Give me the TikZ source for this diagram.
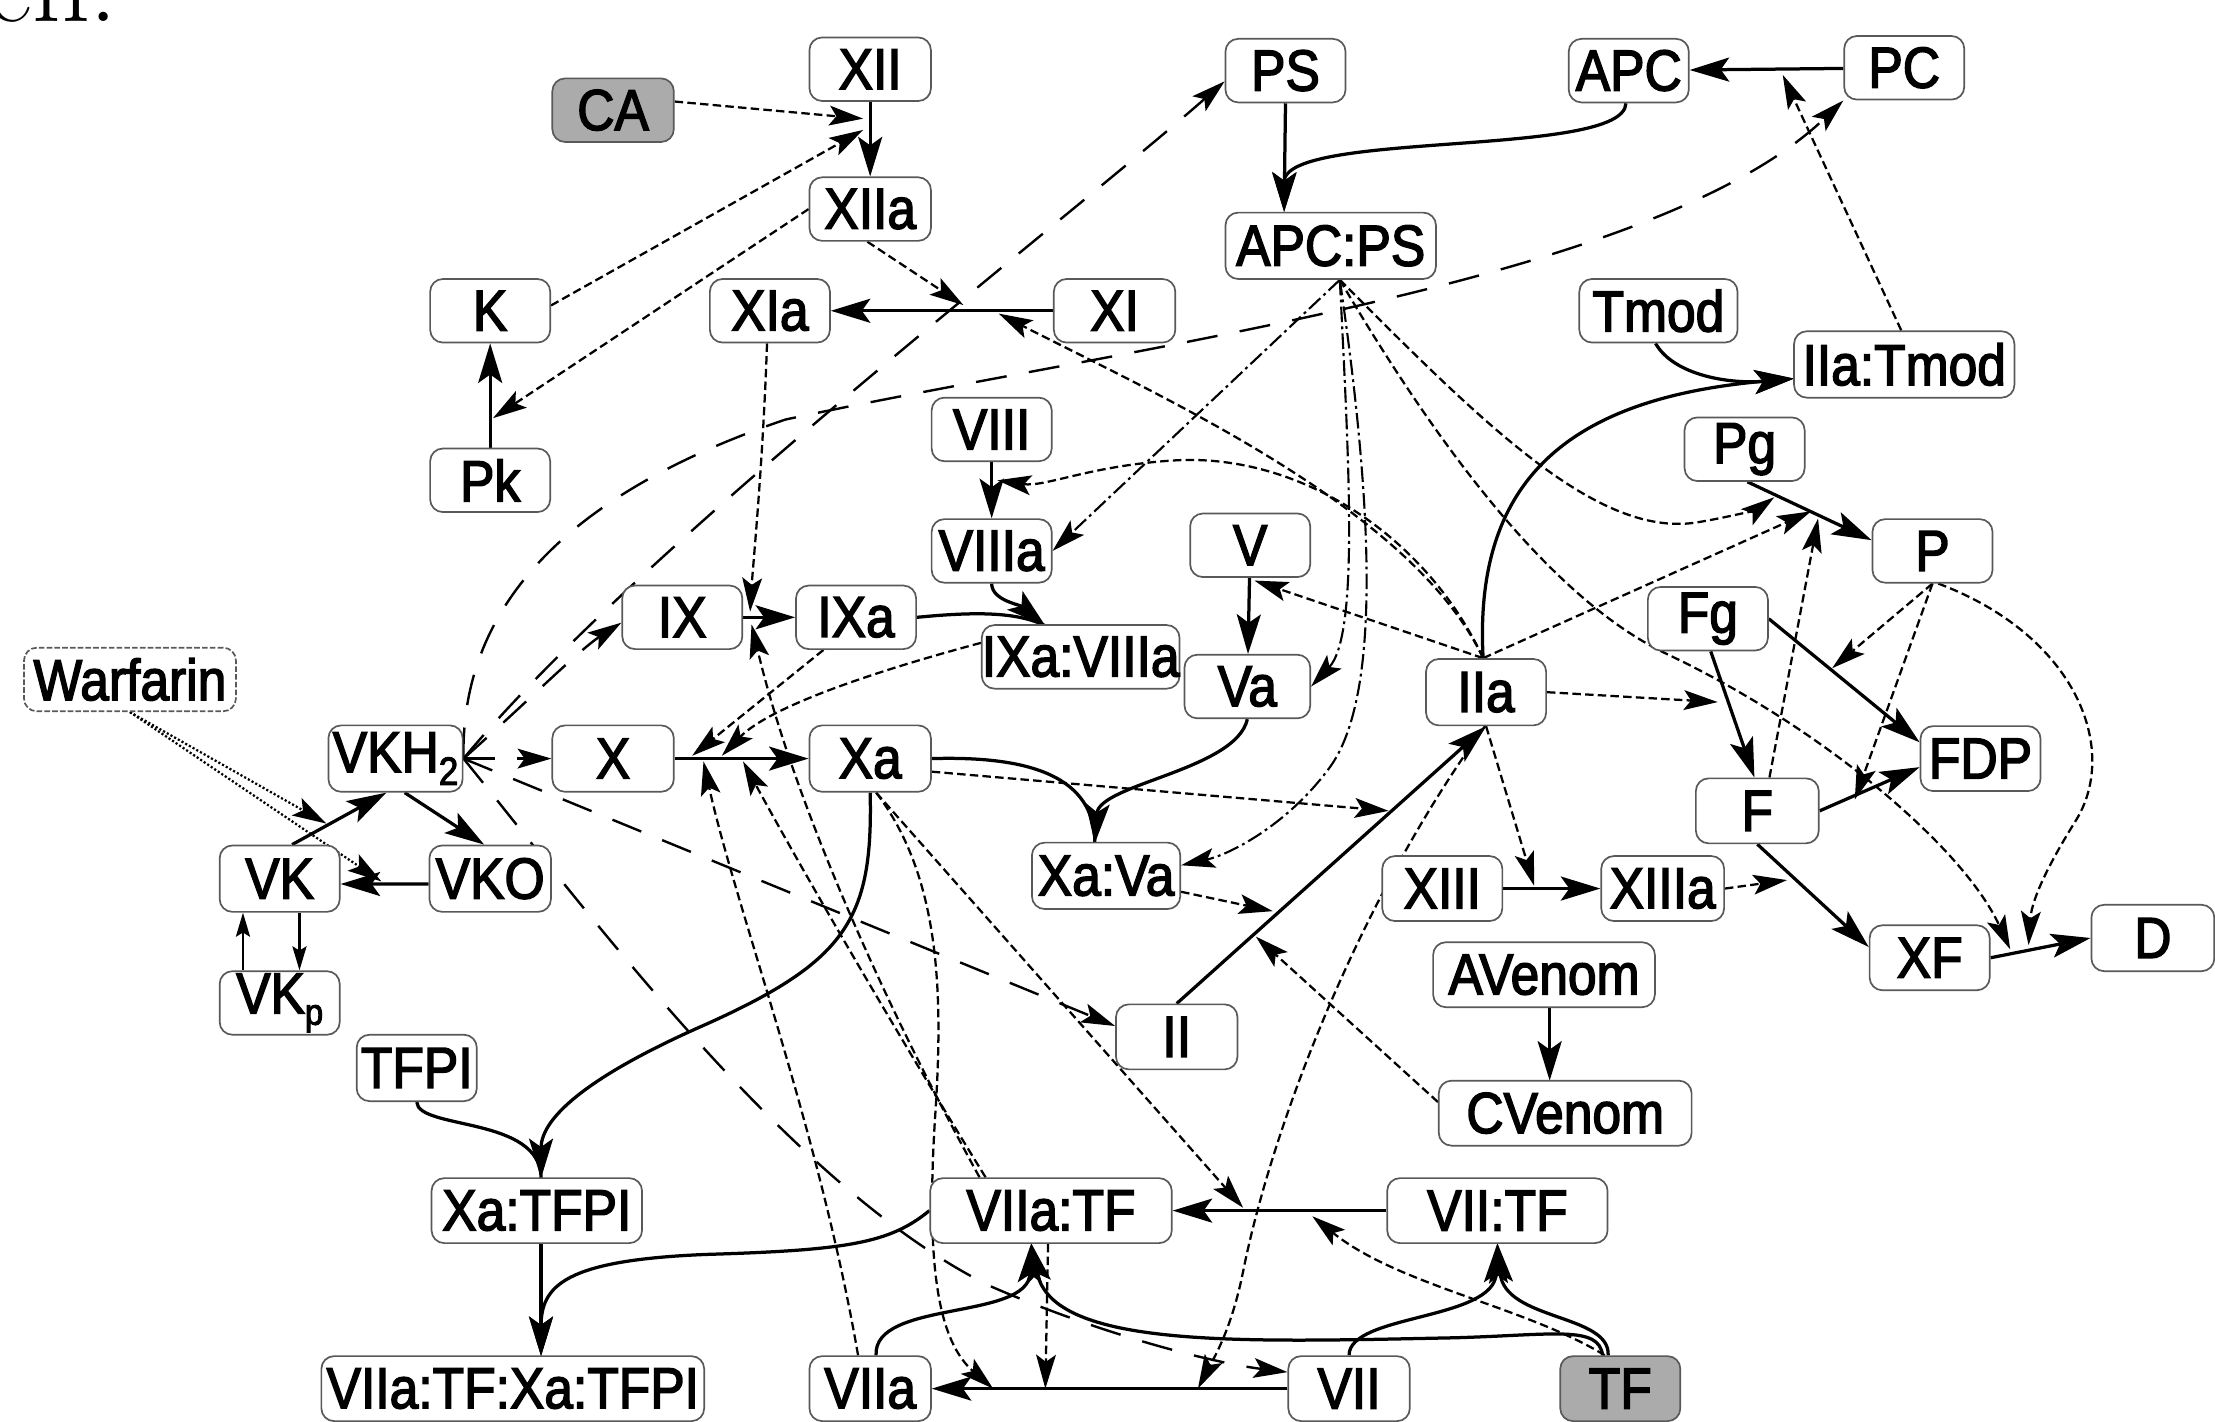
\documentclass[tikz,border=0pt]{standalone}
\usepackage{fontspec}
\setsansfont[FakeStretch=0.89,FakeBold=2.5]{Liberation Sans}
\usetikzlibrary{arrows.meta}
\pgfdeclarelayer{bg}
\pgfsetlayers{bg,main}
\begin{document}
\begin{tikzpicture}[x=1pt,y=-1pt,
  nd/.style={draw=black!65, line width=1.2pt, rounded corners=9pt, fill=white,
    minimum height=45pt, inner sep=0pt, font=\sffamily\fontsize{41}{41}\selectfont},
  gnd/.style={nd, fill=black!33},
  tipL/.tip={Stealth[length=28pt,width=17pt,inset=6pt]},
  tipS/.tip={Stealth[length=24pt,width=14pt,inset=5pt]},
  tipT/.tip={Stealth[length=17pt,width=10pt,inset=3pt]},
  rx/.style={line width=2.3pt, -{tipL}},
  rxs/.style={line width=1.6pt, -{tipT}},
  md/.style={line width=1.6pt, dash pattern=on 6pt off 3pt, -{tipS}},
  ld/.style={line width=1.7pt, dash pattern=on 22pt off 16pt, -{tipS}},
  dd/.style={line width=1.5pt, dash pattern=on 11pt off 3pt on 2pt off 3pt, -{tipS}},
  wd/.style={line width=1.6pt, dash pattern=on 1.5pt off 1.5pt, -{tipS}}
]
\useasboundingbox (0,0) rectangle (1568,1006);
\node[anchor=base west, font=\fontsize{80}{80}\selectfont, inner sep=0pt] (cut) at (-10,15) {en.};

% nodes
\node[gnd, minimum width=86pt] (CA) at (434,78) {CA};
\node[nd, minimum width=86pt] (XII) at (616,49) {XII};
\node[nd, minimum width=85pt] (PS) at (910,50) {PS};
\node[nd, minimum width=85pt] (APC) at (1153,50) {APC};
\node[nd, minimum width=85pt] (PC) at (1348,48) {PC};
\node[nd, minimum width=86pt] (XIIa) at (616,148) {XIIa};
\node[nd, minimum width=149pt, minimum height=47pt] (APCPS) at (942,174) {APC:PS};
\node[nd, minimum width=85pt] (K) at (347,220) {K};
\node[nd, minimum width=85pt] (XIa) at (545,220) {XIa};
\node[nd, minimum width=86pt] (XI) at (789,220) {XI};
\node[nd, minimum width=112pt] (Tmod) at (1174,220) {Tmod};
\node[nd, minimum width=156pt, minimum height=47pt] (IIaTmod) at (1348,258) {IIa:Tmod};
\node[nd, minimum width=85pt] (Pk) at (347,340) {Pk};
\node[nd, minimum width=85pt] (VIII) at (702,304) {VIII};
\node[nd, minimum width=85pt] (Pg) at (1235,318) {Pg};
\node[nd, minimum width=85pt] (VIIIa) at (702,390) {VIIIa};
\node[nd, minimum width=85pt] (V) at (885,386) {V};
\node[nd, minimum width=85pt] (P) at (1368,390) {P};
\node[nd, minimum width=85pt] (IX) at (483,437) {IX};
\node[nd, minimum width=85pt] (IXa) at (606,437) {IXa};
\node[nd, minimum width=140pt] (IXaVIIIa) at (765,465) {IXa:VIIIa};
\node[nd, minimum width=85pt] (Fg) at (1209,438) {Fg};
\node[nd, minimum width=150pt, dash pattern=on 4pt off 1.5pt] (Warfarin) at (92,481) {Warfarin};
\node[nd, minimum width=89pt] (Va) at (883,486) {Va};
\node[nd, minimum width=85pt, minimum height=47pt] (IIa) at (1052,490) {IIa};
\node[nd, minimum width=95pt, minimum height=47pt] (VKH2) at (280,537) {VKH\raisebox{-9pt}{\fontsize{28}{28}\selectfont 2}};
\node[nd, minimum width=86pt, minimum height=47pt] (X) at (434,537) {X};
\node[nd, minimum width=86pt, minimum height=47pt] (Xa) at (616,537) {Xa};
\node[nd, minimum width=85pt, minimum height=46pt] (FDP) at (1402,537) {FDP};
\node[nd, minimum width=87pt, minimum height=46pt] (F) at (1244,574) {F};
\node[nd, minimum width=85pt, minimum height=47pt] (VK) at (198,622) {VK};
\node[nd, minimum width=86pt, minimum height=47pt] (VKO) at (347,622) {VKO};
\node[nd, minimum width=105pt, minimum height=47pt] (XaVa) at (783,620) {Xa:Va};
\node[nd, minimum width=85pt, minimum height=46pt] (XIII) at (1021,629) {XIII};
\node[nd, minimum width=87pt, minimum height=46pt] (XIIIa) at (1177,629) {XIIIa};
\node[nd, minimum width=87pt, minimum height=47pt] (D) at (1524,664) {D};
\node[nd, minimum width=85pt, minimum height=46pt] (XF) at (1366,678) {XF};
\node[nd, minimum width=85pt] (VKp) at (198,710) {VK\raisebox{-8pt}{\fontsize{26}{26}\selectfont p}};
\node[nd, minimum width=157pt, minimum height=46pt] (AVenom) at (1093,690) {AVenom};
\node[nd, minimum width=86pt, minimum height=46pt] (II) at (833,734) {II};
\node[nd, minimum width=85pt, minimum height=47pt] (TFPI) at (295,756) {TFPI};
\node[nd, minimum width=179pt, minimum height=46pt] (CVenom) at (1108,788) {CVenom};
\node[nd, minimum width=149pt, minimum height=46pt] (XaTFPI) at (380,857) {Xa:TFPI};
\node[nd, minimum width=171pt, minimum height=46pt] (VIIaTF) at (744,857) {VIIa:TF};
\node[nd, minimum width=156pt, minimum height=46pt] (VIITF) at (1060,857) {VII:TF};
\node[nd, minimum width=271pt, minimum height=46pt] (Big) at (363,983) {VIIa:TF:Xa:TFPI};
\node[nd, minimum width=86pt, minimum height=46pt] (VIIa) at (616,983) {VIIa};
\node[nd, minimum width=86pt, minimum height=46pt] (VII) at (955,983) {VII};
\node[gnd, minimum width=85pt, minimum height=46pt] (TF) at (1147,983) {TF};

% junction coordinates
\coordinate (cApcps) at (909,150);
\coordinate (cIXaVIIIa) at (740,443);
\coordinate (cXaVa) at (775,597);
\coordinate (cIIaTmod) at (1270,268);
\coordinate (cXaTFPI) at (383,834);
\coordinate (cVIIaTF) at (730,880);
\coordinate (cVIITF) at (1060,880);
\coordinate (cBig) at (383,960);
\coordinate (cCV) at (1097,765);
\coordinate (xA) at (172,0);
\coordinate (xB) at (212,0);
% reaction points
\coordinate (rXIIa) at (611,84);
\coordinate (rXIIb) at (611,92);
\coordinate (rPk) at (349,296);
\coordinate (rXIa) at (682,216);
\coordinate (rXIb) at (707,222);
\coordinate (rPC) at (1262,53);
\coordinate (rVIII) at (706,340);
\coordinate (rV) at (888,411);
\coordinate (rIXa) at (531,433);
\coordinate (rIXb) at (532,442);
\coordinate (rXa1) at (490,535);
\coordinate (rXa2) at (511,535);
\coordinate (rXa3) at (498,539);
\coordinate (rXa4) at (526,539);
\coordinate (rPg1) at (1256,352);
\coordinate (rPg2) at (1282,362);
\coordinate (rPg3) at (1287,367);
\coordinate (rFg) at (1216,497);
\coordinate (rFgFDP) at (1297,473);
\coordinate (rFFDP) at (1313,566);
\coordinate (rXF1) at (1423,672);
\coordinate (rXF2) at (1436,669);
\coordinate (rFXF) at (1265,623);
\coordinate (rXIII) at (1086,627);
\coordinate (rII1) at (983,574);
\coordinate (rII2) at (901,645);
\coordinate (rII3) at (889,663);
\coordinate (rVIITF1) at (880,855);
\coordinate (rVIITF2) at (929,861);
\coordinate (rVII1) at (703,983);
\coordinate (rVII2) at (740,983);
\coordinate (rVII3) at (848,983);
\coordinate (rVKa) at (231,583);
\coordinate (rVKb) at (270,624);

\begin{pgfonlayer}{bg}
% solid reactions
\draw[rx] (XII) -- (XIIa);
\draw[rx] (Pk) -- (K);
\draw[rx] (XI) -- (XIa);
\draw[rx] (PS.south) -- (cApcps);
\draw[rx] (APC.-95) .. controls (1150,112) and (909,92) .. (cApcps);
\draw[rx] (PC) -- (APC);
\draw[rx] (Tmod.-95) .. controls (1185,266) and (1225,272) .. (cIIaTmod);
\draw[rx] (IIa.95) .. controls (1043,340) and (1110,282) .. (cIIaTmod);
\draw[rx] (VIII) -- (VIIIa);
\draw[rx] (Pg.-85) -- (P.170);
\draw[rx] (V) -- (Va);
\draw[rx] (IX) -- (IXa);
\draw[line width=2.3pt] (IXa.east) .. controls (690,433) and (720,433) .. (cIXaVIIIa);
\draw[rx] (VIIIa.south) .. controls (702,425) and (722,428) .. (cIXaVIIIa);
\draw[rx] (Fg.-85) -- (F.95);
\draw[rx] (Fg.east) -- (FDP.165);
\draw[rx] (F.east) -- (FDP.188);
\draw[rx] (X) -- (Xa);
\draw[rx] (VK.70) -- (VKH2.-105);
\draw[rx] (VKH2.-75) -- (VKO.100);
\draw[rx] (VKO.185) -- (VK.-5);
\draw[line width=2.3pt] (Xa.east) .. controls (730,535) and (775,550) .. (cXaVa);
\draw[rx] (Va.south) .. controls (875,545) and (778,555) .. (cXaVa);
\draw[rx] (XIII) -- (XIIIa);
\draw[rx] (F.south) -- (XF.170);
\draw[rx] (XF.east) -- (D.west);
\draw[rxs] (VKp.north -| xA) -- (VK.south -| xA);
\draw[rxs] (VK.south -| xB) -- (VKp.north -| xB);
\draw[rx] (AVenom.south -| cCV) -- (cCV);
\draw[rx] (II.north) -- (IIa.south);
\draw[line width=2.3pt] (TFPI.south) .. controls (296,800) and (383,790) .. (cXaTFPI);
\draw[rx] (Xa.south) .. controls (618,650) and (600,680) .. (500,725) .. controls (420,760) and (383,790) .. (cXaTFPI);
\draw[rx] (XaTFPI.south -| cBig) -- (cBig);
\draw[rx] (VIIaTF.west) .. controls (630,880) and (600,885) .. (500,888) .. controls (400,892) and (383,910) .. (cBig);
\draw[rx] (VIITF) -- (VIIaTF);
\draw[rx] (VII.west) -- (VIIa.east);
\draw[rx] (VIIa.80) .. controls (618,920) and (728,935) .. (cVIIaTF);
\draw[rx] (TF.118) .. controls (1132,938) and (1100,945) .. (1030,947) .. controls (880,950) and (745,955) .. (cVIIaTF);
\draw[rx] (VII.north) .. controls (955,930) and (1058,935) .. (cVIITF);
\draw[rx] (TF.110) .. controls (1140,930) and (1065,935) .. (cVIITF);

% modifiers (dashed)
\draw[md] (CA.8) -- (rXIIa);
\draw[md] (K.5) -- (rXIIb);
\draw[md] (XIIa.west) -- (rPk);
\draw[md] (XIIa.-95) -- (rXIa);
\draw[md] (IIa.95) .. controls (1000,360) and (820,280) .. (rXIb);
\draw[md] (IIa.95) .. controls (1010,380) and (920,320) .. (830,326) .. controls (770,330) and (740,345) .. (rVIII);
\draw[md] (IIa.95) -- (rV);
\draw[md] (IIa.95) -- (rPg2);
\draw[md] (F.70) -- (rPg3);
\draw[md] (APCPS.-75) .. controls (1050,300) and (1130,380) .. (1200,370) .. controls (1225,366) and (1245,360) .. (rPg1);
\draw[md] (APCPS.-75) .. controls (1020,320) and (1100,425) .. (1180,463) .. controls (1290,515) and (1390,600) .. (rXF1);
\draw[md] (IIa.east) -- (rFg);
\draw[md] (P.-90) -- (rFgFDP);
\draw[md] (P.-90) -- (rFFDP);
\draw[md] (P.-80) .. controls (1470,450) and (1500,530) .. (1470,580) .. controls (1445,620) and (1438,640) .. (rXF2);
\draw[md] (XIIIa.east) -- (rFXF);
\draw[md] (IIa.-90) -- (rXIII);
\draw[md] (Xa.-12) -- (rII1);
\draw[md] (XaVa.-12) -- (rII2);
\draw[md] (CVenom.175) -- (rII3);
\draw[md] (IIa.-92) .. controls (960,640) and (900,800) .. (880,900) .. controls (872,940) and (860,960) .. (rVII3);
\draw[md] (VIIaTF.-95) -- (rVII2);
\draw[md] (Xa.-80) .. controls (665,620) and (668,700) .. (662,790) .. controls (655,900) and (665,950) .. (rVII1);
\draw[md] (Xa.-80) -- (rVIITF1);
\draw[md] (TF.115) .. controls (1080,925) and (990,910) .. (rVIITF2);
\draw[md] (VIIaTF.155) .. controls (620,700) and (560,560) .. (rIXb);
\draw[md] (VIIaTF.153) .. controls (640,740) and (570,620) .. (rXa4);
\draw[md] (VIIa.110) .. controls (580,800) and (520,640) .. (rXa3);
\draw[md] (XIa.-95) .. controls (540,330) and (533,400) .. (rIXa);
\draw[md] (IXa.-135) -- (rXa1);
\draw[md] (IXaVIIIa.172) .. controls (620,475) and (545,500) .. (rXa2);
\draw[md] (IIaTmod.95) -- (rPC);
% dash-dot (APC:PS)
\draw[dd] (APCPS.-75) -- (VIIIa.east);
\draw[dd] (APCPS.-75) .. controls (955,330) and (962,450) .. (Va.east);
\draw[dd] (APCPS.-75) .. controls (975,380) and (975,500) .. (940,545) .. controls (910,585) and (870,605) .. (XaVa.8);
% long dashed (VKH2)
\draw[ld] (VKH2.east) .. controls (326,430) and (400,350) .. (556,297) .. controls (800,245) and (1170,200) .. (PC.south west);
\draw[ld] (VKH2.east) .. controls (450,390) and (750,160) .. (PS.-170);
\draw[ld] (VKH2.east) .. controls (370,500) and (410,460) .. (IX.-175);
\draw[ld] (VKH2.east) -- (X.west);
\draw[ld] (VKH2.east) -- (II.170);
\draw[ld] (VKH2.east) .. controls (420,650) and (560,840) .. (700,910) .. controls (780,945) and (860,965) .. (VII.165);
% dotted (Warfarin)
\draw[wd] (Warfarin.south) -- (rVKa);
\draw[wd] (Warfarin.south) -- (rVKb);
\end{pgfonlayer}
\end{tikzpicture}
\end{document}
